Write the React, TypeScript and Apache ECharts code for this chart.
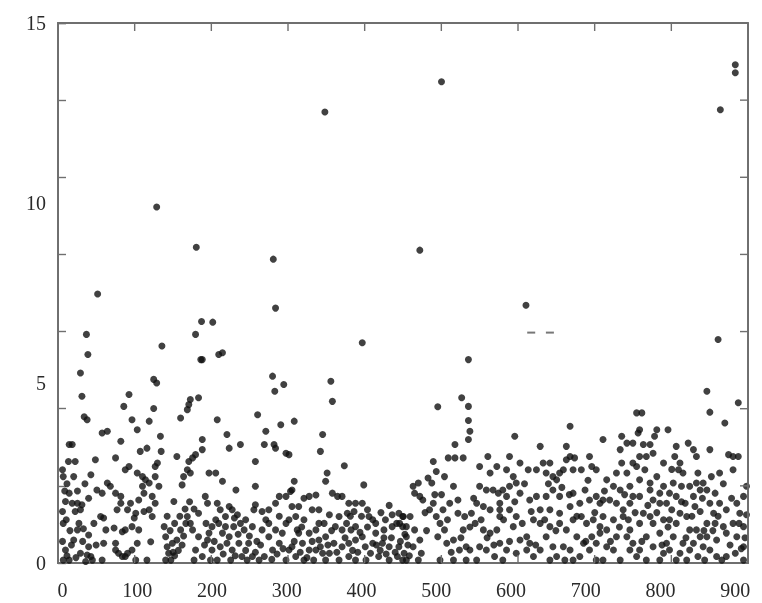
import React, { useEffect, useRef } from "react";
import * as echarts from "echarts";

// Axis settings
const xMin = -6;
const xMax = 917;
const yMin = 0;
const yMax = 15;
const xLabelValues = [0, 100, 200, 300, 400, 500, 600, 700, 800, 900];
const yLabelValues = [0, 5, 10, 15];
const xTickCount = 9; // frame ticks divide the x range in 9 equal parts
const yTickCount = 7; // and the y range in 7 equal parts

// Sparse high points
const highPoints: [number, number][] = [
  [47, 7.47], [126, 9.89], [179, 8.77], [282, 8.44], [285, 7.08], [351, 12.53],
  [507, 13.37], [478, 8.69], [620, 7.16], [880, 12.59], [900, 13.84], [900, 13.62],
  [186, 6.71], [201, 6.69],
  [543, 5.65], [502, 4.34], [534, 4.59], [543, 4.35], [543, 3.96], [545, 3.66], [543, 3.43],
  [679, 3.8], [605, 3.52], [877, 6.21], [862, 4.77], [866, 4.19], [886, 3.89], [904, 4.45],
  [768, 4.17], [775, 4.17],
];

// Two faint dashes near 6.4
const dashPoints: [number, number][] = [[627, 6.4], [652, 6.4]];

// Dense band, x 0-160
const band1: [number, number][] = [
  [32, 6.35], [34, 5.79], [24, 5.28], [26, 4.63], [29, 4.06], [33, 3.98], [9, 3.29], [13, 3.29],
  [8, 2.82], [17, 2.82], [0, 2.59], [1, 2.4], [15, 2.4], [9, 1.94], [4, 1.71], [13, 1.66],
  [20, 1.66], [26, 1.62], [0, 1.43], [17, 1.43], [24, 1.48], [1, 1.1], [22, 1.1], [20, 0.92],
  [15, 0.64], [4, 0.36], [24, 0.27], [33, 0.22], [38, 0.18], [9, 0.08], [1, 0.08], [31, 0.04],
  [44, 2.87], [38, 2.45], [53, 3.61], [60, 3.66], [46, 2.03], [53, 1.94], [60, 2.22], [64, 2.13],
  [71, 1.94], [78, 1.85], [51, 1.29], [55, 1.25], [35, 0.78], [58, 0.92], [69, 0.97], [55, 0.55],
  [71, 0.55], [80, 0.87], [78, 1.66], [73, 1.48], [71, 2.92], [78, 3.38], [71, 0.36], [75, 0.27],
  [84, 0.18], [53, 0.08], [40, 0.08],
  [89, 4.68], [82, 4.35], [93, 3.98], [100, 3.7], [116, 3.94], [122, 4.29], [104, 3.1], [113, 3.19],
  [84, 2.59], [89, 2.68], [100, 2.5], [107, 2.4], [111, 2.31], [107, 2.13], [116, 2.22], [109, 1.94],
  [102, 1.75], [91, 1.66], [87, 1.48], [98, 1.38], [96, 1.25], [109, 1.43], [116, 1.48], [120, 1.29],
  [93, 1.01], [84, 0.92], [102, 0.92], [118, 0.59], [100, 0.55], [93, 0.36], [87, 0.27], [80, 0.18],
  [98, 0.08], [113, 0.08], [122, 5.1], [126, 5.0],
  [133, 6.03], [129, 2.13], [127, 2.78], [131, 3.52], [132, 3.1], [124, 2.68], [124, 2.4], [120, 1.85],
  [124, 1.66], [149, 1.71], [136, 1.01], [138, 0.73], [140, 0.45], [142, 0.27], [138, 0.08], [147, 0.55],
  [153, 0.64], [158, 0.92], [153, 2.96], [158, 4.03], [145, 0.08],
  [5, 1.2], [10, 0.9], [28, 0.95], [12, 0.5], [27, 0.6], [35, 0.45], [6, 0.2], [18, 0.15], [42, 1.1],
  [45, 0.5], [3, 2.0], [6, 2.2], [20, 2.0], [30, 2.2], [35, 1.8], [0, 0.6],
  [150, 0.2], [155, 0.35], [160, 0.5], [162, 0.75], [148, 0.3], [144, 0.9], [150, 1.1], [157, 1.3],
];

// Dense band, x 160-460
const band2: [number, number][] = [
  [165, 1.1], [167, 1.29], [160, 2.17], [162, 2.4], [167, 4.26], [169, 4.4], [171, 4.54], [182, 4.59],
  [169, 2.82], [167, 2.59], [171, 2.5],
  [178, 6.35], [185, 5.65], [187, 5.65], [209, 5.79], [214, 5.84], [207, 3.98], [187, 3.43], [187, 3.15],
  [178, 3.01], [174, 2.92], [196, 2.5], [205, 2.5], [214, 2.27], [191, 1.85], [182, 1.38], [194, 1.66],
  [207, 1.66], [211, 1.48], [200, 1.01], [196, 0.83], [194, 0.64], [182, 0.73], [178, 0.36], [200, 0.36],
  [187, 0.18], [198, 0.08], [207, 0.08], [176, 0.08], [171, 1.1], [174, 0.92], [214, 0.83], [209, 1.1],
  [211, 0.45], [218, 1.29],
  [220, 3.57], [223, 3.19], [238, 3.29], [232, 2.03], [223, 1.57], [227, 1.48], [234, 1.34], [229, 1.01],
  [218, 1.01], [223, 0.73], [236, 0.55], [227, 0.36], [240, 0.18], [247, 0.08], [225, 0.08], [254, 0.18],
  [249, 0.55], [243, 0.92], [254, 1.01], [238, 1.1], [256, 1.48], [258, 1.62],
  [281, 5.19], [296, 4.96], [284, 4.77], [261, 4.12], [292, 3.84], [310, 3.94], [272, 3.66], [270, 3.29],
  [283, 3.29], [285, 3.19], [299, 3.05], [303, 3.01], [258, 2.82], [258, 2.13], [267, 1.43], [276, 1.48],
  [285, 1.66], [290, 1.85], [299, 1.85], [305, 1.99], [310, 2.27], [307, 2.03], [276, 1.1], [267, 0.92],
  [285, 0.92], [299, 1.1], [303, 1.2], [290, 0.55], [281, 0.36], [270, 0.18], [263, 0.08], [299, 0.08],
  [303, 0.36], [276, 0.73], [294, 0.83],
  [348, 3.57], [345, 3.1], [339, 1.89], [330, 1.85], [323, 1.8], [316, 1.57], [334, 1.48], [343, 1.48],
  [323, 1.2], [316, 0.83], [330, 0.83], [339, 0.92], [343, 0.64], [321, 0.55], [330, 0.36], [339, 0.36],
  [348, 0.27], [312, 0.18], [323, 0.08], [336, 0.08], [307, 0.45], [314, 0.92], [312, 1.29], [307, 1.57],
  [343, 1.1],
  [359, 5.05], [361, 4.49], [377, 2.7], [354, 2.5], [352, 2.27], [361, 1.94], [368, 1.85], [374, 1.85],
  [383, 1.66], [392, 1.66], [390, 1.43], [381, 1.38], [370, 1.29], [357, 1.34], [350, 1.1], [365, 1.01],
  [374, 0.92], [386, 0.92], [392, 1.01], [352, 0.73], [363, 0.55], [374, 0.45], [383, 0.55], [392, 0.64],
  [357, 0.27], [370, 0.08], [383, 0.18], [392, 0.08], [352, 0.08],
  [401, 6.12], [403, 2.17], [401, 1.66], [408, 1.48], [410, 1.29], [419, 1.1], [432, 1.2], [441, 1.34],
  [450, 1.38], [455, 1.29], [419, 0.83], [430, 0.92], [441, 1.01], [455, 1.01], [401, 0.73], [415, 0.55],
  [428, 0.55], [437, 0.45], [450, 0.45], [412, 0.27], [423, 0.18], [437, 0.08], [448, 0.18], [457, 0.27],
  [406, 0.08], [455, 0.08],
  [164, 1.5], [170, 1.7], [176, 1.5], [140, 1.3],
  [190, 0.5], [203, 0.6], [215, 0.25], [220, 0.55], [231, 0.2], [235, 0.8], [245, 0.35], [250, 0.75],
  [258, 0.3], [260, 0.6], [245, 1.2], [230, 1.25], [205, 1.2], [192, 1.1],
  [265, 0.5], [280, 0.1], [287, 0.25], [295, 0.4], [310, 0.6], [318, 0.3], [327, 0.15], [334, 0.6],
  [345, 0.45], [320, 1.0], [290, 1.3], [272, 1.2],
  [355, 0.5], [360, 0.9], [367, 0.3], [378, 0.7], [380, 1.1], [388, 0.35], [395, 0.3], [398, 0.85],
  [405, 0.45], [408, 1.0], [415, 1.2], [420, 0.5], [425, 0.35], [430, 0.7], [433, 0.25], [440, 0.7],
  [445, 0.3], [447, 1.1], [452, 0.6], [458, 0.8], [400, 1.3], [426, 1.4], [437, 1.6], [385, 1.3],
];

// Dense band, x 450-720
const band3: [number, number][] = [
  [469, 2.13], [476, 2.22], [471, 1.94], [478, 1.85], [482, 1.75], [465, 1.29], [456, 1.29], [451, 1.1],
  [460, 1.01], [471, 0.92], [478, 0.64], [460, 0.73], [469, 0.45], [480, 0.27], [460, 0.08], [476, 0.08],
  [496, 2.82], [489, 2.36], [494, 2.22], [496, 1.66], [491, 1.48],
  [500, 2.54], [511, 2.4], [523, 2.13], [516, 2.92], [525, 2.92], [536, 2.92], [525, 3.29], [500, 1.29],
  [505, 1.1], [511, 0.92], [518, 1.66], [529, 1.75], [509, 1.48], [529, 1.38], [538, 1.29], [502, 0.73],
  [514, 0.55], [523, 0.64], [531, 0.36], [540, 0.45], [505, 0.08], [523, 0.08], [540, 0.08], [536, 0.92],
  [558, 2.68], [569, 2.96], [581, 2.68], [572, 2.5], [558, 2.13], [567, 2.03], [576, 2.03], [583, 1.94],
  [554, 1.66], [563, 1.57], [572, 1.48], [547, 1.38], [552, 1.1], [563, 0.92], [572, 0.83], [581, 0.92],
  [558, 0.45], [545, 0.36], [567, 0.36], [578, 0.18], [554, 0.08], [585, 0.55], [585, 1.29], [585, 1.66],
  [598, 2.96], [594, 2.59], [612, 2.78], [623, 2.59], [603, 2.4], [607, 2.22], [598, 2.13], [589, 2.03],
  [594, 1.85], [612, 1.94], [625, 1.75], [585, 1.48], [598, 1.48], [607, 1.29], [627, 1.43], [603, 1.01],
  [621, 0.73], [612, 0.64], [625, 0.55], [594, 0.36], [607, 0.27], [621, 0.36], [630, 0.18], [589, 0.08],
  [639, 3.24], [643, 2.78], [652, 2.78],
  [634, 2.59], [647, 2.5], [656, 2.4], [665, 2.5], [670, 2.59], [674, 3.24], [679, 2.96], [685, 2.92],
  [674, 2.87], [661, 2.31], [656, 2.03], [647, 1.85], [665, 1.85], [634, 1.85], [639, 1.48], [652, 1.48],
  [665, 1.38], [639, 1.1], [652, 1.01], [665, 1.1], [674, 0.92], [647, 0.73], [656, 0.45], [670, 0.45],
  [639, 0.36], [652, 0.08], [661, 0.18], [672, 0.08],
  [683, 2.59], [694, 2.59], [705, 2.96], [708, 2.68], [714, 2.59], [699, 2.03], [683, 1.94], [679, 1.57],
  [692, 1.66], [705, 1.75], [714, 1.85], [719, 1.66], [683, 1.2], [694, 1.29], [701, 1.1], [710, 1.2],
  [719, 1.01], [688, 0.73], [697, 0.55], [708, 0.73], [714, 0.55], [719, 0.83], [679, 0.36], [692, 0.18],
  [705, 0.36], [714, 0.08], [683, 0.08],
  [462, 0.5], [464, 0.2], [485, 1.4], [487, 0.9], [498, 1.9], [507, 1.9], [515, 1.2], [520, 0.3],
  [533, 0.7], [545, 1.0], [550, 1.8], [560, 1.2], [568, 0.7], [577, 0.5], [590, 1.2], [598, 0.6],
  [605, 1.7], [615, 1.1], [618, 2.2], [630, 1.2], [633, 0.5], [645, 1.2], [650, 2.2], [660, 0.9],
  [668, 2.1], [678, 1.9], [688, 1.3], [700, 0.6], [703, 2.3], [712, 1.4],
];

// Dense band, x 720-917
const band4: [number, number][] = [
  [723, 3.43], [748, 3.52], [755, 3.33], [763, 3.33], [770, 3.61], [746, 3.15], [748, 2.78], [741, 2.5],
  [755, 2.5], [763, 2.78], [728, 2.31], [737, 2.13], [746, 2.03], [759, 2.13], [763, 1.85], [723, 1.75],
  [732, 1.75], [741, 1.66], [750, 1.48], [759, 1.66], [723, 1.29], [737, 1.2], [750, 1.29], [759, 0.92],
  [728, 0.92], [741, 0.73], [755, 0.73], [763, 0.55], [728, 0.45], [737, 0.36], [746, 0.08], [759, 0.36],
  [723, 0.08], [768, 0.18],
  [772, 3.7], [777, 3.29], [786, 3.29], [795, 3.7], [792, 3.52], [772, 2.96], [781, 2.96], [790, 3.05],
  [768, 2.68], [779, 2.59], [804, 2.78], [772, 2.31], [786, 2.22], [795, 2.4], [804, 2.13], [772, 1.85],
  [786, 2.03], [799, 1.94], [790, 1.75], [777, 1.38], [786, 1.29], [799, 1.66], [808, 1.66], [772, 1.1],
  [790, 1.1], [804, 1.2], [781, 0.73], [799, 0.83], [808, 0.55], [772, 0.36], [790, 0.45], [804, 0.27],
  [781, 0.08], [799, 0.08],
  [810, 3.7], [821, 3.24], [819, 2.96], [826, 2.78], [824, 2.59], [830, 2.5], [837, 3.33], [844, 3.15],
  [848, 2.96], [817, 2.22], [828, 2.13], [839, 2.13], [848, 2.22], [812, 1.94], [821, 1.85], [833, 1.66],
  [844, 1.85], [853, 2.03], [815, 1.48], [826, 1.38], [835, 1.29], [846, 1.57], [853, 1.43], [812, 1.2],
  [821, 1.1], [839, 0.92], [848, 0.92], [817, 0.73], [830, 0.55], [844, 0.55], [853, 0.73], [812, 0.36],
  [826, 0.27], [839, 0.36], [850, 0.18], [821, 0.08], [835, 0.08],
  [866, 3.15], [891, 3.01], [897, 2.96], [904, 2.96], [897, 2.59], [879, 2.5], [868, 2.4], [857, 2.22],
  [862, 2.03], [873, 1.94], [866, 1.66], [879, 1.66], [871, 1.38], [888, 1.48], [906, 1.38], [902, 1.66],
  [915, 2.13], [911, 1.85], [862, 1.1], [873, 1.1], [884, 1.01], [897, 1.1], [911, 1.01], [862, 0.73],
  [875, 0.64], [888, 0.83], [902, 0.73], [911, 0.45], [857, 0.45], [866, 0.36], [875, 0.18], [888, 0.18],
  [900, 0.27], [911, 0.08], [882, 0.08], [859, 0.08], [915, 1.34],
  [725, 2.0], [733, 0.6], [745, 1.0], [752, 1.9], [757, 1.2], [766, 1.4], [775, 0.6], [783, 1.6],
  [795, 1.4], [802, 0.5], [810, 1.0], [815, 2.6], [828, 1.7], [834, 0.7], [842, 1.3], [850, 2.5],
  [856, 1.8], [858, 0.9], [870, 0.9], [877, 1.3], [884, 2.2], [893, 0.5], [895, 1.8], [905, 1.1],
  [908, 0.4], [913, 0.7],
];

// Layout of the plot frame
const GRID = { left: 58, right: 14, top: 23, bottom: 40 };
const W = 762;
const H = 603;
const TICK_LEN = 8;

const axisColor = "#6f6f6f";
const labelFont = { fontFamily: "Liberation Serif", fontSize: 20, color: "#2a2a2a" };

export default function App() {
  const ref = useRef<HTMLDivElement>(null);
  useEffect(() => {
    if (!ref.current) return;
    const chart = echarts.init(ref.current, undefined, { renderer: "svg" });
    const allPoints = [...highPoints, ...band1, ...band2, ...band3, ...band4];

    const x0 = GRID.left;
    const x1 = W - GRID.right;
    const y0 = GRID.top;
    const y1 = H - GRID.bottom;
    const tickStyle = { stroke: axisColor, lineWidth: 1.4 };
    const frameParts: any[] = [
      { type: "line", z: 100, shape: { x1: x0, y1: y0, x2: x1, y2: y0 }, style: { stroke: axisColor, lineWidth: 1.8 } },
      { type: "line", z: 100, shape: { x1: x1, y1: y0, x2: x1, y2: y1 }, style: { stroke: axisColor, lineWidth: 1.8 } },
    ];
    for (let k = 1; k < xTickCount; k++) {
      const px = x0 + ((x1 - x0) * k) / xTickCount;
      frameParts.push({ type: "line", z: 100, shape: { x1: px, y1: y0, x2: px, y2: y0 + TICK_LEN }, style: tickStyle });
      frameParts.push({ type: "line", z: 100, shape: { x1: px, y1: y1, x2: px, y2: y1 - TICK_LEN }, style: tickStyle });
    }
    for (let k = 1; k < yTickCount; k++) {
      const py = y0 + ((y1 - y0) * k) / yTickCount;
      frameParts.push({ type: "line", z: 100, shape: { x1: x1, y1: py, x2: x1 - TICK_LEN, y2: py }, style: tickStyle });
    }

    chart.setOption({
      animation: false,
      grid: { ...GRID, show: true, borderColor: axisColor, borderWidth: 1.8 },
      xAxis: {
        type: "value", position: "bottom", min: xMin, max: xMax,
        splitLine: { show: false },
        axisLine: { show: true, onZero: false, lineStyle: { color: axisColor, width: 1.8 } },
        axisTick: { show: false },
        axisLabel: { ...labelFont, margin: 17, customValues: xLabelValues },
      },
      yAxis: {
        type: "value", position: "left", min: yMin, max: yMax, interval: (yMax - yMin) / yTickCount,
        splitLine: { show: false },
        axisLine: { show: true, onZero: false, lineStyle: { color: axisColor, width: 1.8 } },
        axisTick: { show: true, inside: true, length: TICK_LEN, lineStyle: { color: axisColor, width: 1.4 } },
        axisLabel: { ...labelFont, margin: 12, customValues: yLabelValues },
      },
      graphic: { elements: frameParts },
      series: [
        {
          type: "scatter",
          data: allPoints,
          symbol: "circle",
          symbolSize: 7,
          itemStyle: { color: "#111111" },
        },
        {
          type: "scatter",
          data: dashPoints,
          symbol: "rect",
          symbolSize: [8, 2],
          itemStyle: { color: "#555555" },
        },
      ],
    });
    return () => chart.dispose();
  }, []);
  return <div ref={ref} style={{ position: "fixed", left: 0, top: 0, width: W, height: H }} />;
}
